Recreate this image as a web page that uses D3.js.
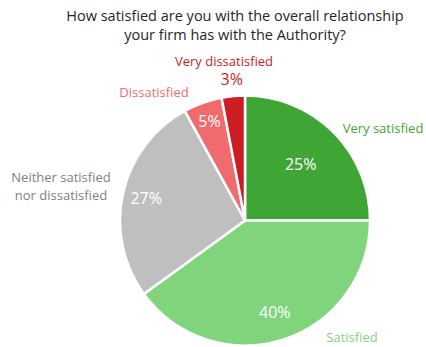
<!DOCTYPE html>
<html>
<head>
<meta charset="utf-8">
<script src="https://cdn.jsdelivr.net/npm/d3@7"></script>
<style>
  body { margin: 0; background: #fff; }
  svg { display: block; font-family: "Open Sans", sans-serif; }
</style>
</head>
<body>
<svg id="chart" width="426" height="347"></svg>
<script>
// data
const categories = ['Very satisfied', 'Satisfied', 'Neither satisfied nor dissatisfied', 'Dissatisfied', 'Very dissatisfied'];
const values     = [25, 40, 27, 5, 3];
const titleLines = ['How satisfied are you with the overall relationship', 'your firm has with the Authority?'];

// styling / layout
const colors    = ['#3fa535', '#80d47c', '#bfbfbf', '#f06b6e', '#cc1c24'];
const catColors = ['#3fa535', '#80d47c', '#7f7f7f', '#f06b6e', '#cc1c24'];
// radius (fraction of R) for percentage labels, and whether label is inside
const pctRadius = [0.63, 0.77, 0.81, 0.84, 1.13];
const pctFill   = ['#fff', '#fff', '#fff', '#fff', '#cc1c24'];
// category label anchor positions (x center, baseline y of first line)
const catPos = [
  { x: 383, y: 133, lines: ['Very satisfied'] },
  { x: 352, y: 342, lines: ['Satisfied'] },
  { x: 61,  y: 182, lines: ['Neither satisfied', 'nor dissatisfied'] },
  { x: 154, y: 97,  lines: ['Dissatisfied'] },
  { x: 224, y: 66,  lines: ['Very dissatisfied'] }
];

const cx = 245, cy = 220.5, R = 125;

const svg = d3.select('#chart');

// title
svg.append('text')
  .attr('x', 235).attr('y', 21)
  .attr('text-anchor', 'middle')
  .attr('fill', '#262626')
  .attr('font-size', 14.5)
  .selectAll('tspan')
  .data(titleLines)
  .join('tspan')
    .attr('x', 235)
    .attr('dy', (d, i) => i ? 19 : 0)
    .text(d => d);

const pie = d3.pie().sort(null).value(d => d.v);
const arcs = pie(values.map((v, i) => ({ v, i })));
const arc = d3.arc().innerRadius(0).outerRadius(R);

const g = svg.append('g').attr('transform', `translate(${cx},${cy})`);

g.selectAll('path')
  .data(arcs)
  .join('path')
    .attr('d', arc)
    .attr('fill', d => colors[d.data.i])
    .attr('stroke', '#fff')
    .attr('stroke-width', 2.5)
    .attr('stroke-linejoin', 'round');

// percentage labels
g.selectAll('text.pct')
  .data(arcs)
  .join('text')
    .attr('class', 'pct')
    .attr('transform', d => {
      const r = R * pctRadius[d.data.i];
      const c = d3.arc().innerRadius(r).outerRadius(r).centroid(d);
      return `translate(${c[0]},${c[1]})`;
    })
    .attr('text-anchor', 'middle')
    .attr('dy', '0.35em')
    .attr('font-size', 16)
    .attr('fill', d => pctFill[d.data.i])
    .text(d => d.data.v + '%');

// category labels
svg.selectAll('text.cat')
  .data(categories)
  .join('text')
    .attr('class', 'cat')
    .attr('text-anchor', 'middle')
    .attr('font-size', 13)
    .attr('fill', (d, i) => catColors[i])
    .each(function(d, i) {
      const p = catPos[i];
      d3.select(this).selectAll('tspan')
        .data(p.lines)
        .join('tspan')
          .attr('x', p.x)
          .attr('y', (l, j) => p.y + j * 17.5)
          .text(l => l);
    });
</script>
</body>
</html>
